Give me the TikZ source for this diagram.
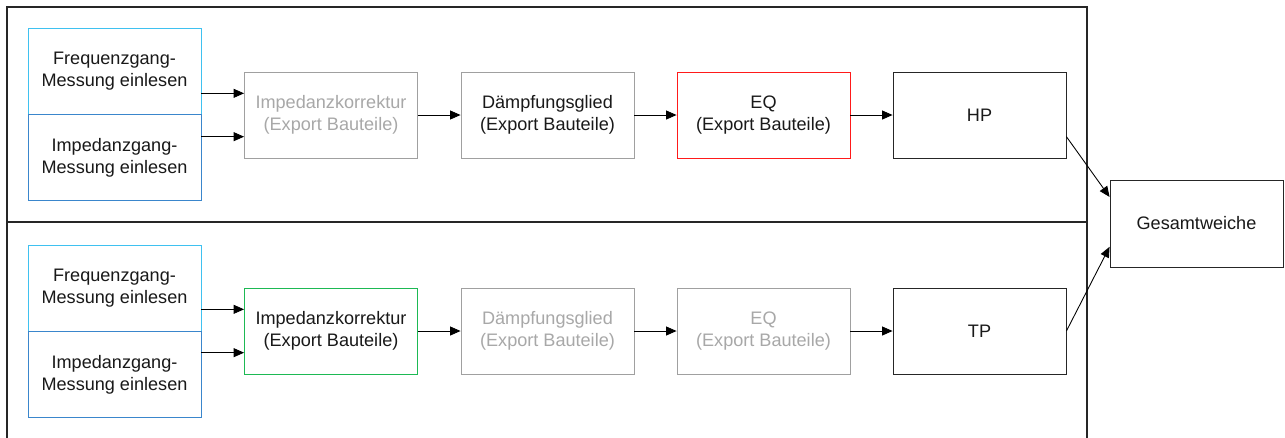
\documentclass[tikz,border=0pt]{standalone}
\usepackage{fontspec}
\setmainfont{Liberation Sans}
\usetikzlibrary{arrows.meta}
\definecolor{lightblue}{HTML}{3FC1F0}
\definecolor{darkblue}{HTML}{3A86CC}
\definecolor{eqred}{HTML}{FF1A1A}
\definecolor{ikgreen}{HTML}{1DB954}
\definecolor{boxgray}{HTML}{A0A0A0}
\definecolor{textgray}{HTML}{A8A8A8}

\begin{document}
\begin{tikzpicture}[x=0.02cm, y=-0.02cm,
  blk/.style={draw=black!85, line width=0.5pt, fill=white, text=black!90,
    minimum width=3.46cm, minimum height=1.72cm, inner sep=0pt,
    align=center, font=\fontsize{10.3}{12.4}\selectfont},
  grey/.style={blk, draw=boxgray},
  off/.style={grey, text=textgray},
  flow/.style={-{Triangle[length=0.21cm, width=0.18cm]}, line width=0.5pt},
  frame/.style={line width=0.6pt, draw=black!85}]
\useasboundingbox (0,0) rectangle (1285,437);

% Rahmen HP / TP
\draw[frame] (7,7) rectangle (1087,222);
\draw[frame] (7,450)--(7,222)--(1087,222)--(1087,450);

% Zweig HP
\node[blk, draw=lightblue] (fq1) at (114.5,71) {Frequenzgang-\\Messung einlesen};
\node[blk, draw=darkblue] (imp1) at (114.5,157.5) {Impedanzgang-\\Messung einlesen};
\node[off] (ik1) at (331,115) {Impedanzkorrektur\\(Export Bauteile)};
\node[grey] (dg1) at (547.5,115) {Dämpfungsglied\\(Export Bauteile)};
\node[blk, draw=eqred] (eq1) at (763.5,115) {EQ\\(Export Bauteile)};
\node[blk] (hp) at (979.5,115) {HP};

% Zweig TP
\node[blk, draw=lightblue] (fq2) at (114.5,288) {Frequenzgang-\\Messung einlesen};
\node[blk, draw=darkblue] (imp2) at (114.5,374.5) {Impedanzgang-\\Messung einlesen};
\node[blk, draw=ikgreen] (ik2) at (331,331) {Impedanzkorrektur\\(Export Bauteile)};
\node[off] (dg2) at (547.5,331) {Dämpfungsglied\\(Export Bauteile)};
\node[off] (eq2) at (763.5,331) {EQ\\(Export Bauteile)};
\node[blk] (tp) at (979.5,331) {TP};

\node[blk, minimum height=1.74cm] (gw) at (1196.5,223.5) {Gesamtweiche};

% Verbindungen
\draw[flow] (fq1.east |- ik1.166) -- (ik1.166);
\draw[flow] (imp1.east |- ik1.194) -- (ik1.194);
\draw[flow] (ik1) -- (dg1);
\draw[flow] (dg1) -- (eq1);
\draw[flow] (eq1) -- (hp);
\draw[flow] (fq2.east |- ik2.166) -- (ik2.166);
\draw[flow] (imp2.east |- ik2.194) -- (ik2.194);
\draw[flow] (ik2) -- (dg2);
\draw[flow] (dg2) -- (eq2);
\draw[flow] (eq2) -- (tp);
\draw[flow] (hp.-14) -- (gw.163);
\draw[flow] (tp.east) -- (gw.195);
\end{tikzpicture}
\end{document}
